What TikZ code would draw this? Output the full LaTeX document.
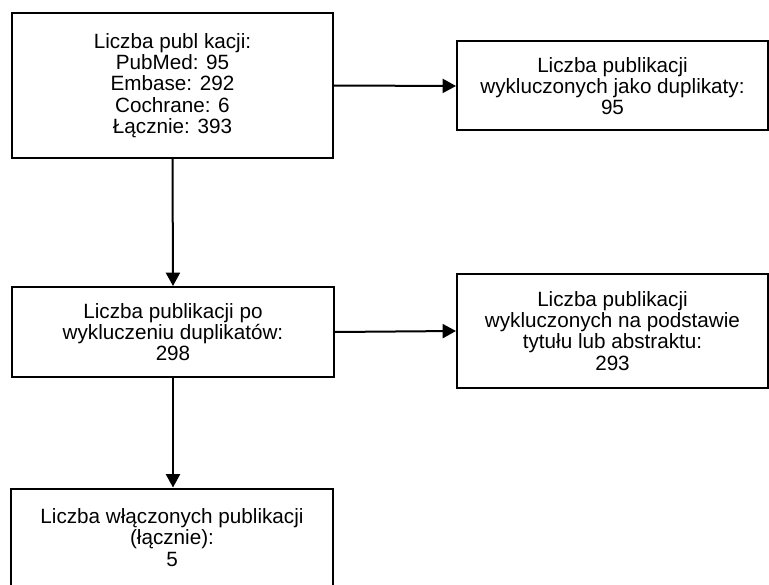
\documentclass[tikz,border=0pt]{standalone}
\usepackage{fontspec}
\setmainfont{Liberation Sans}
\usetikzlibrary{arrows.meta,positioning}
\tikzset{
  >={Triangle[length=10pt,width=10.5pt]},
  box/.style={draw=black, line width=1.5pt, fill=white, align=center, inner sep=2pt,
    font=\fontsize{15.5}{15.9}\selectfont},
  arrow/.style={->, draw=black, line width=1.5pt}
}

\begin{document}
\begin{tikzpicture}[x=0.75pt,y=-0.75pt]
\useasboundingbox (0,0) rectangle (769,585);
\clip (0,0) rectangle (769,585);

% Search results
\node[box, minimum width=240.75pt, minimum height=108.75pt] (search) at (172.5,85.5)
  {Liczba publ kacji:\\ PubMed: 95\\ Embase: 292\\ Cochrane: 6\\ Łącznie: 393};
\node[box, minimum width=233.25pt, minimum height=66.75pt] (dupl) at (612.5,86)
  {Liczba publikacji\\ wykluczonych jako duplikaty:\\ 95};
\draw[arrow] (search.east) -- (dupl.west);

% After removing duplicates
\node[box, minimum width=241.5pt, minimum height=67.5pt] (afterdup) at (173,332)
  {Liczba publikacji po\\ wykluczeniu duplikatów:\\ 298};
\node[box, minimum width=233.25pt, minimum height=85.5pt] (excl) at (612.5,331)
  {Liczba publikacji\\ wykluczonych na podstawie\\ tytułu lub abstraktu:\\ 293};
\draw[arrow] (search.south) -- (afterdup.north);
\draw[arrow] (afterdup.east) -- (excl.west);

% Included
\node[box, minimum width=241.5pt, minimum height=73.5pt] (incl) at (172,537.5)
  {Liczba włączonych publikacji\\ (łącznie):\\ 5};
\draw[arrow] (afterdup.south) -- (afterdup.south |- incl.north);

\end{tikzpicture}
\end{document}
